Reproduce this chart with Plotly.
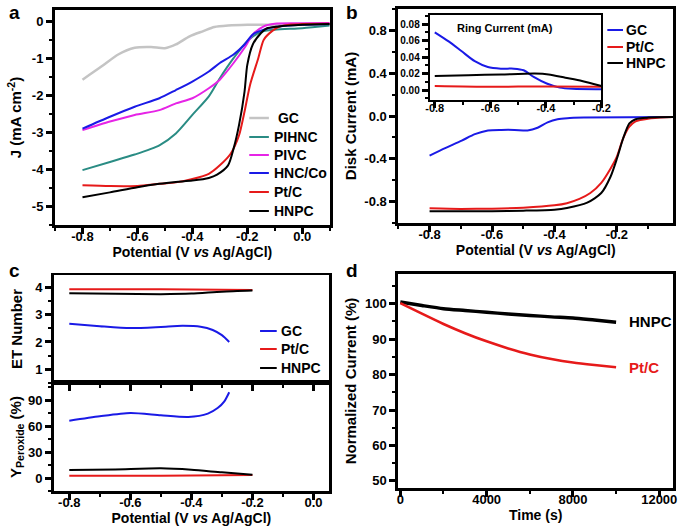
import plotly.graph_objects as go

W, H = 685, 529

# ---------------- Panel a data ----------------
a_gc_x = [-0.8, -0.73, -0.67, -0.61, -0.55, -0.5, -0.46, -0.41, -0.36, -0.32, -0.27, -0.2, -0.1, 0.0, 0.1]
a_gc_y = [-1.58, -1.22, -0.9, -0.72, -0.70, -0.73, -0.63, -0.41, -0.27, -0.16, -0.12, -0.1, -0.1, -0.1, -0.1]
a_pihnc_x = [-0.8, -0.7, -0.61, -0.52, -0.46, -0.4, -0.34, -0.3, -0.25, -0.2, -0.15, -0.1, 0.0, 0.1]
a_pihnc_y = [-4.02, -3.8, -3.6, -3.35, -3.03, -2.53, -2.03, -1.54, -1.0, -0.54, -0.29, -0.23, -0.19, -0.12]
a_pivc_x = [-0.8, -0.7, -0.61, -0.52, -0.46, -0.4, -0.34, -0.3, -0.25, -0.21, -0.18, -0.14, -0.1, 0.0, 0.1]
a_pivc_y = [-2.94, -2.71, -2.53, -2.4, -2.22, -2.08, -1.81, -1.58, -1.13, -0.72, -0.36, -0.14, -0.07, -0.06, -0.05]
a_hnc_x = [-0.8, -0.7, -0.61, -0.52, -0.46, -0.4, -0.34, -0.3, -0.25, -0.21, -0.18, -0.14, -0.1, 0.0, 0.1]
a_hnc_y = [-2.9, -2.58, -2.31, -2.08, -1.86, -1.63, -1.36, -1.13, -0.9, -0.63, -0.36, -0.23, -0.16, -0.1, -0.08]
a_pt_x = [-0.8, -0.7, -0.6, -0.52, -0.46, -0.4, -0.34, -0.3, -0.26, -0.23, -0.21, -0.19, -0.16, -0.14, -0.11, -0.08, -0.04, 0.0, 0.1]
a_pt_y = [-4.43, -4.45, -4.45, -4.39, -4.35, -4.26, -4.12, -3.89, -3.57, -3.08, -2.44, -1.72, -1.0, -0.5, -0.27, -0.14, -0.09, -0.08, -0.07]
a_hnpc_x = [-0.8, -0.7, -0.6, -0.52, -0.46, -0.4, -0.34, -0.31, -0.27, -0.25, -0.23, -0.21, -0.2, -0.18, -0.15, -0.13, -0.09, 0.0, 0.1]
a_hnpc_y = [-4.75, -4.62, -4.48, -4.39, -4.34, -4.3, -4.23, -4.14, -3.89, -3.44, -2.8, -1.9, -1.18, -0.63, -0.32, -0.2, -0.15, -0.1, -0.08]

# ---------------- Panel b data ----------------
b_gc_x = [-0.8, -0.75, -0.697, -0.655, -0.613, -0.57, -0.528, -0.486, -0.454, -0.422, -0.39, -0.359, -0.306, -0.02]
b_gc_y = [-0.37, -0.30, -0.23, -0.17, -0.135, -0.13, -0.13, -0.135, -0.11, -0.06, -0.03, -0.02, -0.015, -0.01]
b_pt_x = [-0.8, -0.7, -0.6, -0.5, -0.4, -0.36, -0.32, -0.285, -0.25, -0.22, -0.2, -0.18, -0.16, -0.14, -0.1, -0.04, -0.02]
b_pt_y = [-0.863, -0.868, -0.866, -0.857, -0.835, -0.815, -0.775, -0.72, -0.625, -0.49, -0.38, -0.21, -0.1, -0.05, -0.025, -0.012, -0.01]
b_hnpc_x = [-0.8, -0.7, -0.6, -0.5, -0.4, -0.36, -0.295, -0.25, -0.22, -0.2, -0.18, -0.16, -0.14, -0.1, -0.02]
b_hnpc_y = [-0.89, -0.89, -0.89, -0.885, -0.875, -0.86, -0.81, -0.72, -0.565, -0.4, -0.21, -0.07, -0.03, -0.015, -0.01]

# inset (ring current)
r_gc_x = [-0.8, -0.75, -0.703, -0.656, -0.609, -0.562, -0.515, -0.48, -0.444, -0.397, -0.35, -0.304, -0.2]
r_gc_y = [0.07, 0.059, 0.047, 0.035, 0.028, 0.026, 0.026, 0.024, 0.016, 0.008, 0.003, 0.0015, 0.001]
r_pt_x = [-0.8, -0.6, -0.4, -0.2]
r_pt_y = [0.005, 0.004, 0.0045, 0.004]
r_hnpc_x = [-0.8, -0.68, -0.56, -0.44, -0.39, -0.33, -0.27, -0.2]
r_hnpc_y = [0.017, 0.018, 0.019, 0.02, 0.019, 0.015, 0.011, 0.005]

# ---------------- Panel c data ----------------
et_gc_x = [-0.8, -0.7, -0.6, -0.5, -0.43, -0.37, -0.33, -0.30, -0.276]
et_gc_y = [2.67, 2.58, 2.51, 2.55, 2.59, 2.56, 2.44, 2.25, 2.0]
et_pt_x = [-0.8, -0.6, -0.4, -0.2]
et_pt_y = [3.93, 3.93, 3.92, 3.9]
et_hnpc_x = [-0.8, -0.65, -0.5, -0.4, -0.3, -0.2]
et_hnpc_y = [3.78, 3.76, 3.75, 3.77, 3.84, 3.88]

yp_gc_x = [-0.8, -0.7, -0.6, -0.5, -0.41, -0.346, -0.314, -0.292, -0.276]
yp_gc_y = [66.4, 71.5, 75.3, 72.6, 70.7, 74.6, 81.0, 88.8, 99.3]
yp_pt_x = [-0.8, -0.5, -0.2]
yp_pt_y = [2.7, 2.7, 3.5]
yp_hnpc_x = [-0.8, -0.65, -0.5, -0.4, -0.3, -0.2]
yp_hnpc_y = [9.3, 10.0, 11.2, 9.6, 6.6, 3.9]

# ---------------- Panel d data ----------------
d_t = [0, 1000, 2000, 3000, 4000, 5000, 6000, 7000, 8000, 9000, 10000]
d_hnpc = [100.5, 99.5, 98.6, 98.1, 97.6, 97.1, 96.7, 96.3, 96.0, 95.4, 94.8]
d_pt = [100.2, 97.2, 94.3, 91.7, 89.4, 87.4, 85.7, 84.4, 83.4, 82.7, 82.1]

# ---------------- tick labels ----------------
pot_ticks = [-0.8, -0.6, -0.4, -0.2, 0.0]
pot_labels = ["-0.8", "-0.6", "-0.4", "-0.2", "0.0"]
a_yticks = [-5, -4, -3, -2, -1, 0]
a_ylabels = ["-5", "-4", "-3", "-2", "-1", "0"]
b_xticks = [-0.8, -0.6, -0.4, -0.2]
b_xlabels = ["-0.8", "-0.6", "-0.4", "-0.2"]
b_yticks = [-0.8, -0.4, 0.0, 0.4, 0.8]
b_ylabels = ["-0.8", "-0.4", "0.0", "0.4", "0.8"]
r_yticks = [0.0, 0.02, 0.04, 0.06, 0.08]
r_ylabels = ["0.00", "0.02", "0.04", "0.06", "0.08"]
et_ticks = [1, 2, 3, 4]
yp_ticks = [0, 30, 60, 90]
d_xticks = [0, 4000, 8000, 12000]
d_yticks = [50, 60, 70, 80, 90, 100]

# legend entries
a_names = [" GC", "PIHNC", "PIVC", "HNC/Co", "Pt/C", "HNPC"]
bc_names = ["GC", "Pt/C", "HNPC"]

GRAY = "#c4c4c4"
TEAL = "#2a8c84"
MAG = "#e624e6"
BLUE = "#1a1ae6"
RED = "#e61a1a"
BLACK = "#000000"
a_colors = [GRAY, TEAL, MAG, BLUE, RED, BLACK]
bc_colors = [BLUE, RED, BLACK]

fig = go.Figure()


def line(x, y, color, name, xa, ya, width=2, shape="spline"):
    fig.add_trace(go.Scatter(x=x, y=y, mode="lines", name=name,
                             line=dict(color=color, width=width, shape=shape, smoothing=0.7),
                             xaxis=xa, yaxis=ya, showlegend=False))


# panel a
line(a_gc_x, a_gc_y, GRAY, "GC", "x", "y", 2.5)
line(a_pihnc_x, a_pihnc_y, TEAL, "PIHNC", "x", "y")
line(a_pivc_x, a_pivc_y, MAG, "PIVC", "x", "y")
line(a_hnc_x, a_hnc_y, BLUE, "HNC/Co", "x", "y")
line(a_pt_x, a_pt_y, RED, "Pt/C", "x", "y")
line(a_hnpc_x, a_hnpc_y, BLACK, "HNPC", "x", "y")

# panel b
line(b_gc_x, b_gc_y, BLUE, "GC", "x2", "y2")
line(b_pt_x, b_pt_y, RED, "Pt/C", "x2", "y2")
line(b_hnpc_x, b_hnpc_y, BLACK, "HNPC", "x2", "y2")
line(r_gc_x, r_gc_y, BLUE, "GC", "x3", "y3")
line(r_pt_x, r_pt_y, RED, "Pt/C", "x3", "y3")
line(r_hnpc_x, r_hnpc_y, BLACK, "HNPC", "x3", "y3")

# panel c
line(et_gc_x, et_gc_y, BLUE, "GC", "x4", "y4")
line(et_pt_x, et_pt_y, RED, "Pt/C", "x4", "y4")
line(et_hnpc_x, et_hnpc_y, BLACK, "HNPC", "x4", "y4")
line(yp_gc_x, yp_gc_y, BLUE, "GC", "x5", "y5")
line(yp_pt_x, yp_pt_y, RED, "Pt/C", "x5", "y5")
line(yp_hnpc_x, yp_hnpc_y, BLACK, "HNPC", "x5", "y5")

# panel d
line(d_t, d_hnpc, BLACK, "HNPC", "x6", "y6", width=3.4)
line(d_t, d_pt, RED, "Pt/C", "x6", "y6", width=2.6)


def px_x(p):
    return p / W


def px_y(p):
    return 1 - p / H


def axis(domain, rng, tickvals, ticktext, minor_dtick, anchor, title=None, standoff=4,
         showlabels=True, fs=13, tfs=15, lw=3, is_x=False):
    d = dict(domain=domain, range=rng, anchor=anchor, showline=True, linecolor="#000000",
             linewidth=lw, mirror=True, ticks="outside", ticklen=6, tickwidth=2.5,
             tickcolor="#000000", showgrid=False, zeroline=False,
             tickmode="array", tickvals=tickvals, ticktext=ticktext,
             showticklabels=showlabels, tickfont=dict(size=fs),
             minor=dict(ticks="outside", ticklen=3, tickwidth=2, tickcolor="#000000",
                        dtick=minor_dtick, tick0=0, showgrid=False))
    if is_x:
        d["ticklabelstandoff"] = -9
    if title:
        d["title"] = dict(text=title, font=dict(size=tfs), standoff=standoff)
    return d


pot_title = "Potential (V <i>vs</i> Ag/AgCl)"

fig.update_layout(
    width=W, height=H, margin=dict(l=0, r=0, t=0, b=0),
    paper_bgcolor="white", plot_bgcolor="white", showlegend=False,
    font=dict(family="Liberation Sans, Arial, sans-serif", weight="bold", size=13, color="black"),
    xaxis=axis([px_x(52), px_x(332)], [-0.9, 0.1], pot_ticks, pot_labels, 0.1, "y", pot_title, 5,
               tfs=14, is_x=True),
    yaxis=axis([px_y(225), px_y(10)], [-5.5, 0.3], a_yticks, a_ylabels, 0.5, "x",
               "J (mA cm<sup>-2</sup>)", 7),
    xaxis2=axis([px_x(402), px_x(682)], [-0.9, -0.02], b_xticks, b_xlabels, 0.1, "y2", pot_title, 5,
                tfs=14, is_x=True),
    yaxis2=axis([px_y(223), px_y(9)], [-1.0, 1.0], b_yticks, b_ylabels, 0.2, "x2",
                "Disk Current (mA)", 5),
    xaxis3=axis([px_x(434), px_x(609)], [-0.818, -0.2], b_xticks, b_xlabels, 0.1, "y3",
                fs=11, lw=2, is_x=True),
    yaxis3=axis([px_y(100), px_y(15)], [-0.012, 0.091], r_yticks, r_ylabels, 0.01, "x3",
                fs=10, lw=2),
    xaxis4=axis([px_x(51), px_x(331)], [-0.85, 0.05], pot_ticks, pot_labels, 0.1, "y4",
                showlabels=False, lw=1.6),
    yaxis4=axis([px_y(383), px_y(275)], [0.5, 4.45], et_ticks, [str(v) for v in et_ticks], 0.5, "x4",
                "ET Number", 9),
    xaxis5=axis([px_x(51), px_x(331)], [-0.85, 0.05], pot_ticks, pot_labels, 0.1, "y5", pot_title, 5,
                tfs=14, is_x=True),
    yaxis5=axis([px_y(491), px_y(383)], [-15, 110], yp_ticks, [str(v) for v in yp_ticks], 15, "x5",
                "Y<sub>Peroxide</sub> (%)", 3),
    xaxis6=axis([px_x(402), px_x(682)], [-90, 12640], d_xticks, [str(v) for v in d_xticks], 2000, "y6",
                "Time (s)", 5, tfs=14, is_x=True),
    yaxis6=axis([px_y(488), px_y(274)], [48, 108.4], d_yticks, [str(v) for v in d_yticks], 5, "x6",
                "Normalized Current (%)", 5),
)


# legend keys (paper coordinates)
def legend_block(names, colors, x0, x1, xt, ys, fs=14):
    for nm, col, yc in zip(names, colors, ys):
        fig.add_shape(type="line", xref="paper", yref="paper",
                      x0=px_x(x0), x1=px_x(x1), y0=px_y(yc), y1=px_y(yc),
                      line=dict(color=col, width=2.5 if col == GRAY else 2))
        fig.add_annotation(text=nm, xref="paper", yref="paper", x=px_x(xt), y=px_y(yc),
                           xanchor="left", yanchor="middle", showarrow=False,
                           font=dict(size=fs))


legend_block(a_names, a_colors, 250, 270, 273, [118, 137, 155, 173, 192, 211])
legend_block(bc_names, bc_colors, 615, 631, 632, [30, 47, 63])
legend_block(bc_names, bc_colors, 261, 278, 280, [331, 349, 368])

ann = [
    dict(text="a", x=px_x(3), y=px_y(0), xanchor="left", yanchor="top", font=dict(size=19)),
    dict(text="b", x=px_x(347), y=px_y(0), xanchor="left", yanchor="top", font=dict(size=19)),
    dict(text="c", x=px_x(3), y=px_y(258), xanchor="left", yanchor="top", font=dict(size=19)),
    dict(text="d", x=px_x(347), y=px_y(258), xanchor="left", yanchor="top", font=dict(size=19)),
    dict(text="Ring Current (mA)", x=px_x(511), y=px_y(28), xanchor="center", yanchor="middle",
         font=dict(size=11)),
]
for a in ann:
    a.update(xref="paper", yref="paper", showarrow=False)
    fig.add_annotation(**a)

fig.add_annotation(text="HNPC", x=10500, y=95.0, xref="x6", yref="y6", xanchor="left",
                   showarrow=False, font=dict(size=15, color="black"))
fig.add_annotation(text="Pt/C", x=10500, y=82.0, xref="x6", yref="y6", xanchor="left",
                   showarrow=False, font=dict(size=15, color=RED))

fig.write_html("out.html", config={"displayModeBar": False},
               post_script="document.body.style.margin='0px';document.body.style.overflow='hidden';")
